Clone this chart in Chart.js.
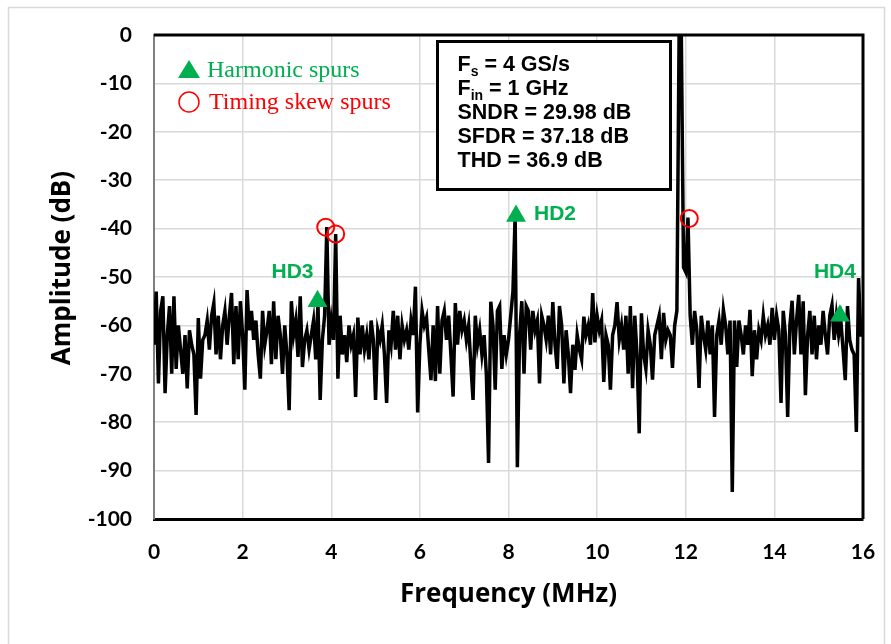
<!DOCTYPE html>
<html>
<head>
<meta charset="utf-8">
<script src="https://cdn.jsdelivr.net/npm/chart.js@4.4.1/dist/chart.umd.min.js"></script>
<style>
  html, body { margin: 0; padding: 0; background: #ffffff; }
  #wrap { width: 891px; height: 644px; position: relative; }
</style>
</head>
<body>
<div id="wrap"><canvas id="spectrum" width="891" height="644"></canvas></div>
<script>
// Output spectrum bins (MHz spacing) and their amplitudes in dB
const FREQ_STEP = 0.05;
const amplitudeDb = [
  -64, -53, -72, -57, -54, -74, -62, -56, -70, -54, -69, -60, -65, -70, -62, -73, -61, -64, -66, -78.5,
  -58.5, -71, -63, -62, -59, -65, -58, -55.4, -66, -58, -67, -60, -57, -64, -58, -53.3, -68, -56, -67, -55,
  -62, -73.3, -52.7, -61, -57, -63, -59, -66, -71, -57, -64, -61, -57, -68, -55, -67, -58, -62, -70, -60,
  -66, -77.5, -55, -62, -59, -66.5, -54, -68.6, -63, -61, -65, -62, -59, -67, -55.5, -75.4, -63, -58, -39.7, -64,
  -59, -63, -41.1, -71, -58, -66, -62, -67.6, -60, -64, -62, -74.8, -58.4, -66, -60, -65, -62, -67, -59, -63,
  -75.4, -61, -63, -60, -66, -76, -61, -64, -57, -65, -58, -67, -60, -63, -61, -65, -59, -62, -52, -78,
  -64, -57, -60, -58.4, -65, -71.3, -60, -71.5, -56, -70, -59, -57, -63, -58, -66, -74.7, -55.4, -64, -57, -61,
  -59, -63, -60, -68, -75.4, -58, -64, -61, -66, -62, -70, -88.4, -55.1, -60, -73.3, -57, -56, -69, -62, -66,
  -63, -58, -53, -37.2, -89.3, -62, -55, -70, -56, -57, -65, -57, -61, -59, -72, -58, -60, -63, -58, -66,
  -55.2, -64, -69, -56, -60, -72, -61, -66, -74, -64, -69.2, -62, -65, -67, -58.2, -62, -60, -64, -53.3, -63.5,
  -58, -61, -59, -71.7, -62, -64, -73.3, -62, -60, -55.2, -63, -60, -65, -58, -70, -56, -73, -58, -66, -82.3,
  -57.5, -66, -69, -61, -64, -71.2, -62, -60, -58, -67, -57.4, -63, -61, -62, -68.8, -60, -57, 0, 0, -48,
  -49, -37.7, -58, -64, -57, -61, -72.9, -58, -62, -65, -59, -66, -60, -78.9, -62, -59, -64, -56.8, -60, -66,
  -59, -94.4, -59, -68.6, -59, -62, -66, -60, -64, -56.8, -70.5, -61, -67, -61, -63, -58, -62, -60, -64, -56.4,
  -63, -58, -61, -76, -57, -62, -78.9, -60, -54.9, -66, -59, -53.7, -66, -55, -74.4, -62, -57, -66, -58, -67,
  -60, -64, -57, -62, -66, -58, -55.8, -63, -58, -62, -59, -65, -71.3, -56, -63, -65, -66, -82, -50.2, -62, -62
];

// Harmonic spurs (frequency MHz, level dB, name)
const harmonicFreq = [3.69, 8.17, 15.48];
const harmonicDb = [-55, -37.4, -58];
const harmonicNames = ['HD3', 'HD2', 'HD4'];

// Timing-skew spurs (frequency MHz, level dB)
const skewFreq = [3.875, 4.1, 12.08];
const skewDb = [-39.7, -41.1, -37.9];

// Axis tick values and titles
const xTicks = [0, 2, 4, 6, 8, 10, 12, 14, 16];
const yTicks = [0, -10, -20, -30, -40, -50, -60, -70, -80, -90, -100];
const xTitle = 'Frequency (MHz)';
const yTitle = 'Amplitude (dB)';

// Measurement summary lines: [main, subscript, rest]
const infoLines = [
  ['F', 's', ' = 4 GS/s'],
  ['F', 'in', ' = 1 GHz'],
  ['SNDR = 29.98 dB', '', ''],
  ['SFDR = 37.18 dB', '', ''],
  ['THD = 36.9 dB', '', '']
];

const GREEN = '#00b050';
const RED = '#ff0000';
const TICK_FONT = { family: 'Lato, "Open Sans", sans-serif', size: 21, weight: 'bold' };
const TITLE_FONT = 'bold 26px "Open Sans", sans-serif';

const tracePoints = amplitudeDb.map((v, i) => ({ x: +(i * FREQ_STEP).toFixed(3), y: v }));
const harmonicPoints = harmonicFreq.map((f, i) => ({ x: f, y: harmonicDb[i] }));
const skewPoints = skewFreq.map((f, i) => ({ x: f, y: skewDb[i] }));

// Label offsets (px) of each harmonic tag relative to its marker
const hdLabelOffsets = [[-25, -29], [39, -2], [-5, -44]];

const decor = {
  id: 'decor',
  beforeDraw(chart) {
    const ctx = chart.ctx;
    ctx.save();
    ctx.fillStyle = '#ffffff';
    ctx.fillRect(0, 0, chart.width, chart.height);
    ctx.strokeStyle = '#d9d9d9';
    ctx.lineWidth = 1.5;
    ctx.strokeRect(8.5, 7.5, chart.width - 15, chart.height + 10);
    ctx.restore();
  },
  afterDatasetsDraw(chart) {
    const ctx = chart.ctx;
    const a = chart.chartArea;
    const xs = chart.scales.x, ys = chart.scales.y;
    ctx.save();

    // top and right edges of the plot frame
    ctx.strokeStyle = '#000000';
    ctx.lineWidth = 3;
    ctx.beginPath();
    ctx.moveTo(a.left, a.top);
    ctx.lineTo(a.right, a.top);
    ctx.lineTo(a.right, a.bottom);
    ctx.stroke();

    // axis titles
    ctx.fillStyle = '#000000';
    ctx.font = TITLE_FONT;
    ctx.textAlign = 'center';
    ctx.textBaseline = 'middle';
    ctx.fillText(xTitle, (a.left + a.right) / 2, a.bottom + 76);
    ctx.save();
    ctx.translate(a.left - 91, a.top + 233);
    ctx.rotate(-Math.PI / 2);
    ctx.fillText(yTitle, 0, 0);
    ctx.restore();

    // legend
    ctx.textBaseline = 'alphabetic';
    ctx.textAlign = 'left';
    ctx.font = '24px "Liberation Serif", "Times New Roman", serif';
    const lx = a.left + 35, ly1 = a.top + 35, ly2 = a.top + 67;
    ctx.fillStyle = GREEN;
    ctx.beginPath();
    ctx.moveTo(lx, ly1 - 10);
    ctx.lineTo(lx + 11, ly1 + 8);
    ctx.lineTo(lx - 11, ly1 + 8);
    ctx.closePath();
    ctx.fill();
    ctx.fillText('Harmonic spurs', lx + 18, ly1 + 7);
    ctx.strokeStyle = RED;
    ctx.lineWidth = 1.5;
    ctx.beginPath();
    ctx.arc(lx, ly2, 10, 0, Math.PI * 2);
    ctx.stroke();
    ctx.fillStyle = RED;
    ctx.fillText('Timing skew spurs', lx + 20, ly2 + 7);

    // harmonic tags
    ctx.font = 'bold 21px "Liberation Sans", Arial, sans-serif';
    ctx.fillStyle = GREEN;
    ctx.textAlign = 'center';
    ctx.textBaseline = 'middle';
    harmonicNames.forEach((name, i) => {
      const px = xs.getPixelForValue(harmonicFreq[i]) + hdLabelOffsets[i][0];
      const py = ys.getPixelForValue(harmonicDb[i]) + hdLabelOffsets[i][1];
      ctx.fillText(name, px, py);
    });

    // measurement summary box
    const bx = a.left + 283.5, by = a.top + 6.5, bw = 233, bh = 148;
    ctx.fillStyle = '#ffffff';
    ctx.fillRect(bx, by, bw, bh);
    ctx.strokeStyle = '#000000';
    ctx.lineWidth = 3;
    ctx.strokeRect(bx, by, bw, bh);
    ctx.fillStyle = '#000000';
    ctx.textAlign = 'left';
    ctx.textBaseline = 'alphabetic';
    const mainFont = 'bold 21.5px "Liberation Sans", Arial, sans-serif';
    const subFont = 'bold 14px "Liberation Sans", Arial, sans-serif';
    infoLines.forEach((ln, i) => {
      let tx = bx + 20;
      const ty = by + 29 + i * 24;
      ctx.font = mainFont;
      ctx.fillText(ln[0], tx, ty);
      tx += ctx.measureText(ln[0]).width;
      if (ln[1]) {
        ctx.font = subFont;
        ctx.fillText(ln[1], tx, ty + 5);
        tx += ctx.measureText(ln[1]).width;
      }
      if (ln[2]) {
        ctx.font = mainFont;
        ctx.fillText(ln[2], tx, ty);
      }
    });
    ctx.restore();
  }
};

new Chart(document.getElementById('spectrum'), {
  type: 'line',
  data: {
    datasets: [
      {
        label: 'Harmonic spurs',
        data: harmonicPoints,
        showLine: false,
        pointStyle: 'triangle',
        pointRadius: 11.5,
        pointBackgroundColor: GREEN,
        pointBorderColor: GREEN,
        pointBorderWidth: 0,
        order: 0
      },
      {
        label: 'Timing skew spurs',
        data: skewPoints,
        showLine: false,
        pointStyle: 'circle',
        pointRadius: 8.5,
        pointBackgroundColor: 'rgba(0,0,0,0)',
        pointBorderColor: RED,
        pointBorderWidth: 2,
        order: 0
      },
      {
        label: 'Spectrum',
        data: tracePoints,
        borderColor: '#000000',
        borderWidth: 3.5,
        pointRadius: 0,
        tension: 0,
        fill: false,
        order: 1
      }
    ]
  },
  options: {
    responsive: false,
    devicePixelRatio: 1,
    animation: false,
    events: [],
    layout: { padding: { left: 0, top: 35, right: 28, bottom: 0 } },
    plugins: { legend: { display: false }, tooltip: { enabled: false } },
    scales: {
      x: {
        type: 'linear',
        min: 0, max: 16,
        afterFit: s => { s.height = 125; s.paddingLeft = 0; s.paddingRight = 0; },
        afterBuildTicks: s => { s.ticks = xTicks.map(v => ({ value: v })); },
        grid: { color: '#d9d9d9', lineWidth: 1.5, drawTicks: false },
        border: { color: '#000000', width: 3 },
        ticks: { padding: 21, color: '#000000', maxRotation: 0, font: TICK_FONT }
      },
      y: {
        type: 'linear',
        min: -100, max: 0,
        afterFit: s => { s.width = 154; s.paddingTop = 0; s.paddingBottom = 0; },
        afterBuildTicks: s => { s.ticks = yTicks.map(v => ({ value: v })); },
        grid: { color: '#d9d9d9', lineWidth: 1.5, drawTicks: false },
        border: { color: '#7f7f7f', width: 2 },
        ticks: { padding: 22, color: '#000000', font: TICK_FONT }
      }
    }
  },
  plugins: [decor]
});
</script>
</body>
</html>
